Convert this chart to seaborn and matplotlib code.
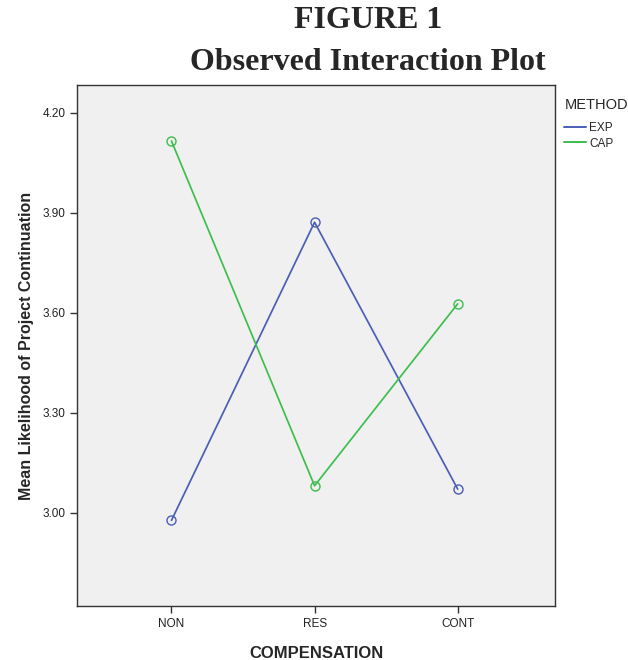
import pandas as pd
import numpy as np
import matplotlib
matplotlib.use("Agg")
import matplotlib.pyplot as plt
import seaborn as sns
from matplotlib.lines import Line2D

# data
compensation = ["NON", "RES", "CONT"]
methods = ["EXP", "CAP"]
exp_means = [2.977, 3.872, 3.071]
cap_means = [4.116, 3.081, 3.627]
y_ticks = [3.00, 3.30, 3.60, 3.90, 4.20]

df = pd.DataFrame({
    "COMPENSATION": compensation * 2,
    "METHOD": ["EXP"] * 3 + ["CAP"] * 3,
    "Mean": exp_means + cap_means,
})

sns.set_style("white")
plt.rcParams["font.family"] = ["Liberation Sans", "DejaVu Sans"]

palette = {"EXP": "#4A5EB5", "CAP": "#3DBE4E"}

fig = plt.figure(figsize=(6.28, 6.6), dpi=100)
ax = fig.add_axes([77 / 628, 1 - 606 / 660, (555 - 77) / 628, (606 - 85) / 660])
ax.set_facecolor("#F0F0F0")

sns.lineplot(data=df, x="COMPENSATION", y="Mean", hue="METHOD", hue_order=methods,
             palette=palette, marker="o", markersize=6.5, markerfacecolor="none",
             markeredgewidth=1.0, linewidth=1.25, legend=False, ax=ax, sort=False)

# hollow circles in the line colour
for ln in ax.lines:
    ln.set_markeredgecolor(ln.get_color())

ax.set_xlim(-0.66, 2.68)
ax.set_ylim(2.72, 4.284)
ax.set_yticks(y_ticks)
ax.set_yticklabels([f"{v:.2f}" for v in y_ticks], fontsize=8.5, color="#222222")
ax.set_xticks(range(len(compensation)))
ax.set_xticklabels(compensation, fontsize=8.5, color="#222222")
ax.tick_params(axis="both", direction="out", length=5, width=1, color="#333333",
               left=True, bottom=True)

for s in ax.spines.values():
    s.set_color("#333333")
    s.set_linewidth(1)

ax.set_ylabel("Mean Likelihood of Project Continuation", fontsize=11.5,
              fontweight="bold", labelpad=6)
ax.set_xlabel("COMPENSATION", fontsize=12, fontweight="bold", labelpad=12)

# title in serif
fig.text(368 / 628, 1 - 21 / 660, "FIGURE 1", ha="center", va="center",
         fontsize=23, fontweight="bold", family=["Liberation Serif", "DejaVu Serif"])
fig.text(368 / 628, 1 - 62 / 660, "Observed Interaction Plot", ha="center", va="center",
         fontsize=23, fontweight="bold", family=["Liberation Serif", "DejaVu Serif"])

# legend
handles = [Line2D([0], [0], color=palette[m], linewidth=1.4) for m in methods]
leg = fig.legend(handles, methods, loc="upper left", bbox_to_anchor=(556 / 628, 1 - 90 / 660),
                 title="METHOD", frameon=False, fontsize=8.5, title_fontsize=10.5,
                 handlelength=1.8, handletextpad=0.3, labelspacing=0.3, borderpad=0.2)
leg._legend_box.align = "left"
leg._legend_box.sep = 7

fig.savefig("out.png", dpi=100)
